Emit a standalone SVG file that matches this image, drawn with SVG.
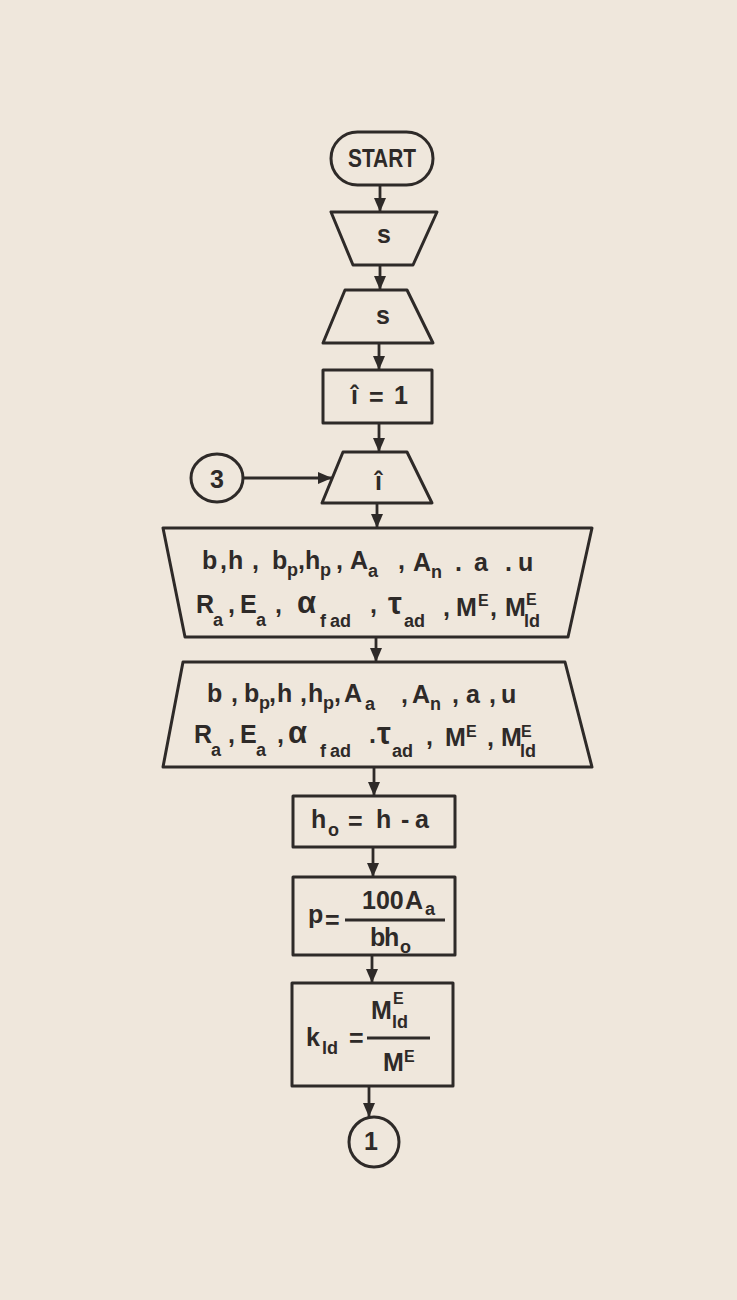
<svg xmlns="http://www.w3.org/2000/svg" width="737" height="1300" viewBox="0 0 737 1300">
<defs>
<marker id="arr" viewBox="0 0 14 12" refX="14" refY="6" markerWidth="14" markerHeight="12" markerUnits="userSpaceOnUse" orient="auto">
<path d="M0,0 L14,6 L0,12 Z" fill="#2e2a28"/>
</marker>
<style>
.bg{fill:#efe7dc}
.sh{fill:none;stroke:#2e2a28;stroke-width:3;stroke-linejoin:round}
.ln{fill:none;stroke:#2e2a28;stroke-width:2.8}
.t{font-family:"Liberation Sans","DejaVu Sans",sans-serif;font-weight:bold;fill:#2e2a28;font-size:25px}
.sub{font-size:18px}
.sup{font-size:16px}
.big{font-size:31px}
.c{text-anchor:middle}
</style>
</defs>
<rect class="bg" x="0" y="0" width="737" height="1300"/>

<g id="connectors">
<path class="ln" d="M380,185 V212" marker-end="url(#arr)"/>
<path class="ln" d="M380,265 V290" marker-end="url(#arr)"/>
<path class="ln" d="M379,343 V370" marker-end="url(#arr)"/>
<path class="ln" d="M379,423 V452" marker-end="url(#arr)"/>
<path class="ln" d="M377,503 V528" marker-end="url(#arr)"/>
<path class="ln" d="M376,637 V662" marker-end="url(#arr)"/>
<path class="ln" d="M374,767 V796" marker-end="url(#arr)"/>
<path class="ln" d="M373,847 V877" marker-end="url(#arr)"/>
<path class="ln" d="M372,955 V983" marker-end="url(#arr)"/>
<path class="ln" d="M369,1086 V1117" marker-end="url(#arr)"/>
<path class="ln" d="M243,478 H332" marker-end="url(#arr)"/>
</g>

<g id="start">
<rect class="sh" x="331" y="132" width="102" height="53" rx="26.5"/>
<text class="t c" x="382" y="167" font-size="25" textLength="68" lengthAdjust="spacingAndGlyphs">START</text>
</g>

<g id="in-s">
<path class="sh" d="M331,212 H437 L413,265 H353 Z"/>
<text class="t" x="377" y="243">s</text>
</g>

<g id="out-s">
<path class="sh" d="M345,290 H407 L433,343 H323 Z"/>
<text class="t" x="376" y="324">s</text>
</g>

<g id="init-i">
<rect class="sh" x="323" y="370" width="109" height="53"/>
<text class="t" x="351" y="404">î</text>
<text class="t" x="369" y="406">=</text>
<text class="t" x="394" y="404">1</text>
</g>

<g id="in-i">
<path class="sh" d="M343,452 H407 L432,503 H322 Z"/>
<text class="t" x="375" y="490">î</text>
</g>

<g id="conn-3">
<ellipse class="sh" cx="217" cy="478" rx="26" ry="24"/>
<text class="t c" x="217" y="488">3</text>
</g>

<g id="in-data">
<path class="sh" d="M163,528 H592 L568,637 H185 Z"/>
<text class="t">
<tspan x="202" y="569">b</tspan><tspan x="220" y="569">,</tspan><tspan x="228" y="569">h</tspan><tspan x="252" y="569">,</tspan><tspan x="272" y="569">b</tspan><tspan class="sub" x="287" y="576">p</tspan><tspan x="298" y="569">,</tspan><tspan x="305" y="569">h</tspan><tspan class="sub" x="320" y="576">p</tspan><tspan x="336" y="569">,</tspan><tspan x="350" y="569">A</tspan><tspan class="sub" x="368" y="577">a</tspan><tspan x="398" y="569">,</tspan><tspan x="413" y="571">A</tspan><tspan class="sub" x="431" y="578">n</tspan><tspan x="455" y="571">.</tspan><tspan x="474" y="571">a</tspan><tspan x="505" y="571">.</tspan><tspan x="518" y="571">u</tspan>
</text>
<text class="t">
<tspan x="196" y="613">R</tspan><tspan class="sub" x="213" y="626">a</tspan><tspan x="228" y="613">,</tspan><tspan x="240" y="613">E</tspan><tspan class="sub" x="256" y="626">a</tspan><tspan x="275" y="613">,</tspan><tspan class="big" x="297" y="613">α</tspan><tspan class="sub" x="320" y="627">f</tspan><tspan class="sub" x="330" y="627">ad</tspan><tspan x="370" y="613">,</tspan><tspan class="big" x="388" y="614">τ</tspan><tspan class="sub" x="404" y="627">ad</tspan><tspan x="443" y="616">,</tspan><tspan x="456" y="616">M</tspan><tspan class="sup" x="478" y="606">E</tspan><tspan x="490" y="616">,</tspan><tspan x="505" y="616">M</tspan><tspan class="sup" x="526" y="605">E</tspan><tspan class="sub" x="524" y="627">ld</tspan>
</text>
</g>

<g id="out-data">
<path class="sh" d="M183,662 H565 L592,767 H163 Z"/>
<text class="t">
<tspan x="207" y="702">b</tspan><tspan x="231" y="702">,</tspan><tspan x="244" y="702">b</tspan><tspan class="sub" x="259" y="709">p</tspan><tspan x="269" y="702">,</tspan><tspan x="277" y="702">h</tspan><tspan x="300" y="702">,</tspan><tspan x="308" y="702">h</tspan><tspan class="sub" x="323" y="709">p</tspan><tspan x="334" y="702">,</tspan><tspan x="344" y="702">A</tspan><tspan class="sub" x="365" y="710">a</tspan><tspan x="401" y="703">,</tspan><tspan x="412" y="703">A</tspan><tspan class="sub" x="430" y="710">n</tspan><tspan x="452" y="703">,</tspan><tspan x="466" y="703">a</tspan><tspan x="489" y="703">,</tspan><tspan x="501" y="703">u</tspan>
</text>
<text class="t">
<tspan x="194" y="743">R</tspan><tspan class="sub" x="211" y="756">a</tspan><tspan x="228" y="743">,</tspan><tspan x="240" y="743">E</tspan><tspan class="sub" x="256" y="756">a</tspan><tspan x="277" y="743">,</tspan><tspan class="big" x="288" y="743">α</tspan><tspan class="sub" x="320" y="757">f</tspan><tspan class="sub" x="330" y="757">ad</tspan><tspan x="369" y="743">.</tspan><tspan class="big" x="377" y="744">τ</tspan><tspan class="sub" x="392" y="757">ad</tspan><tspan x="426" y="745">,</tspan><tspan x="445" y="746">M</tspan><tspan class="sup" x="466" y="737">E</tspan><tspan x="487" y="746">,</tspan><tspan x="501" y="746">M</tspan><tspan class="sup" x="521" y="737">E</tspan><tspan class="sub" x="520" y="757">ld</tspan>
</text>
</g>

<g id="calc-h0">
<rect class="sh" x="293" y="796" width="162" height="51"/>
<text class="t"><tspan x="311" y="828">h</tspan><tspan class="sub" x="328" y="836">o</tspan><tspan x="348" y="830">=</tspan><tspan x="376" y="828">h</tspan><tspan x="401" y="828">-</tspan><tspan x="415" y="828">a</tspan></text>
</g>

<g id="calc-p">
<rect class="sh" x="293" y="877" width="162" height="78"/>
<text class="t"><tspan x="308" y="923">p</tspan><tspan x="325" y="929">=</tspan></text>
<path class="ln" d="M345,920 H445"/>
<text class="t"><tspan x="362" y="909">100</tspan><tspan x="405" y="909">A</tspan><tspan class="sub" x="425" y="915">a</tspan></text>
<text class="t"><tspan x="370" y="946">b</tspan><tspan x="384" y="946">h</tspan><tspan class="sub" x="400" y="953">o</tspan></text>
</g>

<g id="calc-k">
<rect class="sh" x="292" y="983" width="161" height="103"/>
<text class="t"><tspan x="306" y="1046">k</tspan><tspan class="sub" x="322" y="1054">ld</tspan><tspan x="349" y="1047">=</tspan></text>
<path class="ln" d="M367,1038 H430"/>
<text class="t"><tspan x="371" y="1019">M</tspan><tspan class="sup" x="393" y="1004">E</tspan><tspan class="sub" x="392" y="1028">ld</tspan></text>
<text class="t"><tspan x="383" y="1071">M</tspan><tspan class="sup" x="404" y="1062">E</tspan></text>
</g>

<g id="conn-1">
<circle class="sh" cx="374" cy="1142" r="25"/>
<text class="t c" x="371" y="1150">1</text>
</g>
</svg>
